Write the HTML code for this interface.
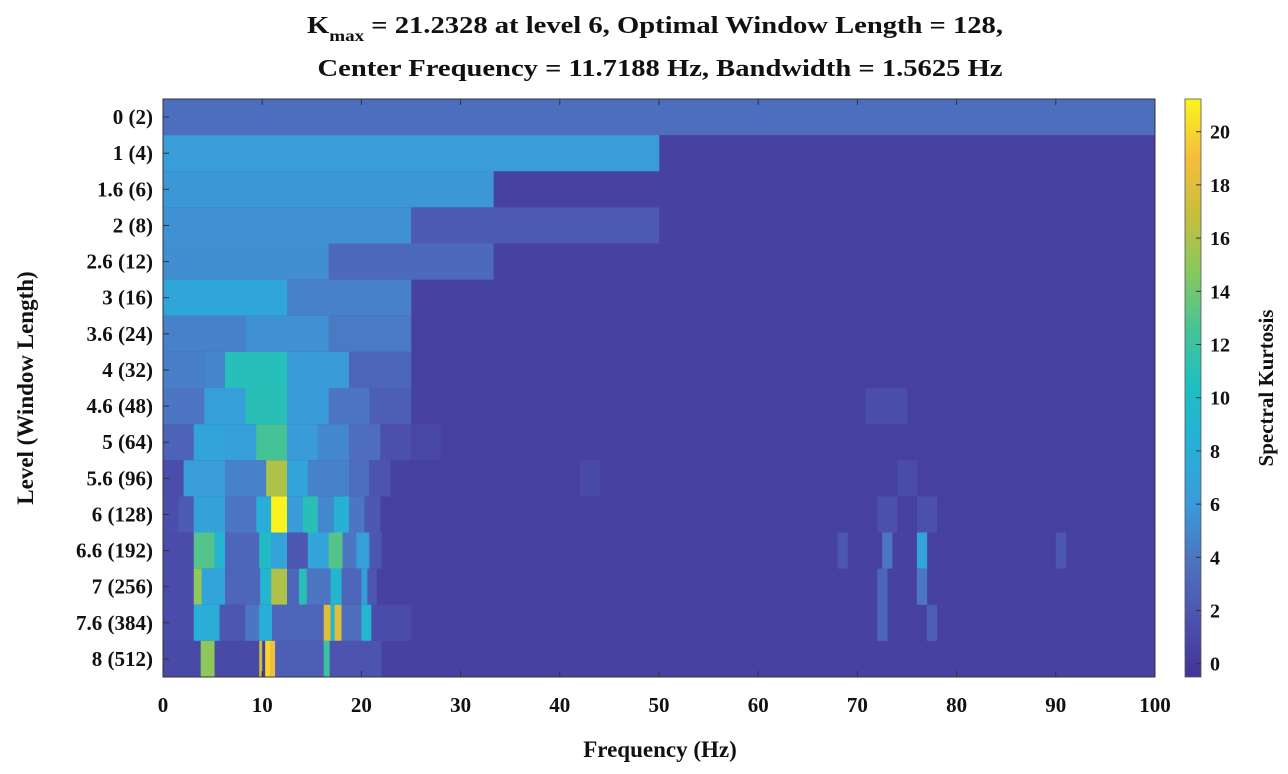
<!DOCTYPE html>
<html><head><meta charset="utf-8"><style>
html,body{margin:0;padding:0;background:#fff;}
svg{display:block;font-family:"Liberation Serif",serif;font-weight:bold;}
</style></head><body>
<svg id="chart" width="1288" height="774" viewBox="0 0 1288 774">
<text x="655" y="33" font-size="24" text-anchor="middle" fill="#111" textLength="696" lengthAdjust="spacingAndGlyphs">K<tspan font-size="16" dy="8">max</tspan><tspan dy="-8"> = 21.2328 at level 6, Optimal Window Length = 128,</tspan></text>
<text x="660" y="76" font-size="24" text-anchor="middle" fill="#111" textLength="685" lengthAdjust="spacingAndGlyphs">Center Frequency = 11.7188 Hz, Bandwidth = 1.5625 Hz</text>
<g id="cells"></g>
<rect x="163" y="99" width="992" height="578" fill="none" stroke="#333" stroke-width="1"/>
<g id="yticks"></g>
<g id="xticks"></g>
<text x="660" y="757" font-size="23" text-anchor="middle" fill="#111">Frequency (Hz)</text>
<text transform="translate(33,388) rotate(-90)" font-size="23" text-anchor="middle" fill="#111">Level (Window Length)</text>
<defs><linearGradient id="cbgrad" x1="0" y1="1" x2="0" y2="0"></linearGradient></defs>
<rect x="1185" y="99" width="16" height="578" fill="url(#cbgrad)" stroke="#555" stroke-width="0.8"/>
<g id="cbticks"></g>
<text transform="translate(1273,388) rotate(-90)" font-size="21" text-anchor="middle" fill="#111">Spectral Kurtosis</text>
</svg>
<script>
// ---- data ----
const levelLabels = ["0  (2)","1  (4)","1.6  (6)","2  (8)","2.6  (12)","3  (16)","3.6  (24)","4  (32)","4.6  (48)","5  (64)","5.6  (96)","6  (128)","6.6  (192)","7  (256)","7.6  (384)","8 (512)"];
const rowBackground = [3.5,0.5,0.5,0.5,0.5,0.4,0.4,0.4,0.4,0.4,0.4,0.4,0.5,0.5,0.5,0.5];
// segments per level: [startHz, endHz, kurtosis]
const rowSegments = [
 [[0,100,3.5]],
 [[0,50,6.2]],
 [[0,33.3,5.8]],
 [[0,25,5.5],[25,50,2.2]],
 [[0,16.7,5.3],[16.7,33.3,3.2]],
 [[0,12.5,7.2],[12.5,25,4.6]],
 [[0,8.33,4.6],[8.33,16.7,5.5],[16.7,25,4.2]],
 [[0,4.2,4.5],[4.2,6.25,4.8],[6.25,12.5,10.8],[12.5,18.75,6],[18.75,25,3]],
 [[0,4.17,4],[4.17,8.33,6.5],[8.33,12.5,11],[12.5,16.7,6],[16.7,20.8,4],[20.8,25,2.5],[70.8,75,1.3]],
 [[0,3.1,2.8],[3.1,6.25,7],[6.25,9.4,6.5],[9.4,12.5,12.5],[12.5,15.6,6],[15.6,18.75,5],[18.75,21.9,3.5],[21.9,25,1.5],[25,28,0.9]],
 [[0,2.08,1.3],[2.08,6.25,6.2],[6.25,10.4,4.6],[10.4,12.5,16],[12.5,14.6,7],[14.6,18.75,4.6],[18.75,20.8,3.4],[20.8,22.9,1.8],[42,44,1],[74,76,1.2]],
 [[0,1.56,1.4],[1.56,3.1,2.2],[3.1,6.25,6.8],[6.25,9.4,4],[9.4,10.9,8],[10.9,12.5,21.2],[12.5,14.1,6],[14.1,15.6,11],[15.6,17.2,5],[17.2,18.75,8.5],[18.75,20.3,4],[20.3,21.9,2],[72,74,1.5],[76,78,1.5]],
 [[0,3.1,1.2],[3.1,5.2,13],[5.2,6.25,9],[6.25,9.7,3],[9.7,10.9,10],[10.9,12.5,7],[12.5,14.6,2],[14.6,16.7,7],[16.7,18.1,13],[18.1,19.5,4],[19.5,20.8,6.5],[20.8,22,2],[72.5,73.5,4],[76,77,7],[68,69,2],[90,91,2]],
 [[0,3.1,1.2],[3.1,3.9,15],[3.9,6.25,7],[6.25,9.8,3],[9.8,10.9,9],[10.9,12.5,16],[12.5,13.7,3],[13.7,14.5,11],[14.5,16.9,4],[16.9,18,9],[18,20,3],[20,20.6,6.5],[20.6,21.5,2],[72,73,3],[76,77,4]],
 [[0,3.1,1.2],[3.1,5.7,8],[5.7,8.3,2],[8.3,9.7,4],[9.7,11,8],[11,16.2,3],[16.2,16.9,18],[16.9,17.3,9],[17.3,18,18],[18,20,3.5],[20,21,9],[21,25,1.2],[72,73,3],[77,78,2.5]],
 [[0,3.8,1],[3.8,5.2,15],[5.2,9.7,1],[9.7,10,17],[10,10.3,0.2],[10.3,10.8,20],[10.8,11.3,19],[11.3,16.2,2.5],[16.2,16.8,12],[16.8,22,1.8]]
];
const xTicks = [0,10,20,30,40,50,60,70,80,90,100];
const cbTicks = [0,2,4,6,8,10,12,14,16,18,20];
const cMin = -0.5, cMax = 21.23;

// ---- scales ----
const X0=163, X1=1155, Y0=99, Y1=677;
const xScale = f => X0 + (f/100)*(X1-X0);
const rowH = (Y1-Y0)/levelLabels.length;
const yScale = i => Y0 + i*rowH;
const cScale = v => Y1 - (v-cMin)/(cMax-cMin)*(Y1-Y0);

const parula = [[0,[66,52,150]],[0.1,[76,82,175]],[0.2,[78,115,192]],[0.3,[58,155,218]],[0.4,[40,175,215]],[0.5,[30,190,195]],[0.6,[70,195,150]],[0.7,[135,200,95]],[0.8,[200,190,60]],[0.9,[245,190,60]],[1,[250,245,30]]];
function color(v){
  let t=(v-cMin)/(cMax-cMin); t=Math.max(0,Math.min(1,t));
  for(let i=1;i<parula.length;i++){
    if(t<=parula[i][0]){
      const [a,ca]=parula[i-1],[b,cb]=parula[i];const u=(t-a)/(b-a);
      const c=ca.map((x,k)=>Math.round(x+(cb[k]-x)*u));
      return `rgb(${c[0]},${c[1]},${c[2]})`;
    }
  }
  return 'rgb(250,245,30)';
}
const NS="http://www.w3.org/2000/svg";
const cells=document.getElementById('cells');
levelLabels.forEach((lab,i)=>{
  const bg=document.createElementNS(NS,'rect');
  bg.setAttribute('x',X0);bg.setAttribute('y',yScale(i));
  bg.setAttribute('width',X1-X0);bg.setAttribute('height',rowH+0.5);
  bg.setAttribute('fill',color(rowBackground[i]));
  
  
  cells.appendChild(bg);
  rowSegments[i].forEach(s=>{
    const r=document.createElementNS(NS,'rect');
    r.setAttribute('x',xScale(s[0]));r.setAttribute('y',yScale(i));
    r.setAttribute('width',xScale(s[1])-xScale(s[0])+0.3);r.setAttribute('height',rowH+0.5);
    r.setAttribute('fill',color(s[2]));
    
    
    cells.appendChild(r);
  });
});
const yt=document.getElementById('yticks');
levelLabels.forEach((lab,i)=>{
  const yc=yScale(i)+rowH/2;
  const t=document.createElementNS(NS,'text');
  t.setAttribute('x',153);t.setAttribute('y',yc+7);t.setAttribute('text-anchor','end');
  t.setAttribute('font-size','21');t.setAttribute('fill','#111');t.setAttribute('xml:space','preserve');
  t.textContent=lab;
  
  
  yt.appendChild(t);
  const l=document.createElementNS(NS,'line');
  l.setAttribute('x1',X0);l.setAttribute('x2',X0+6);l.setAttribute('y1',yc);l.setAttribute('y2',yc);l.setAttribute('stroke','#333');
  
  
  yt.appendChild(l);
});
const xt=document.getElementById('xticks');
xTicks.forEach(v=>{
  const t=document.createElementNS(NS,'text');
  t.setAttribute('x',xScale(v));t.setAttribute('y',712);t.setAttribute('text-anchor','middle');
  t.setAttribute('font-size','21');t.setAttribute('fill','#111');t.textContent=v;
  
  
  xt.appendChild(t);
  const l=document.createElementNS(NS,'line');
  l.setAttribute('x1',xScale(v));l.setAttribute('x2',xScale(v));l.setAttribute('y1',Y1);l.setAttribute('y2',Y1-6);l.setAttribute('stroke','#333');
  
  
  xt.appendChild(l);
  const l2=document.createElementNS(NS,'line');
  l2.setAttribute('x1',xScale(v));l2.setAttribute('x2',xScale(v));l2.setAttribute('y1',Y0);l2.setAttribute('y2',Y0+6);l2.setAttribute('stroke','#333');
  
  
  xt.appendChild(l2);
});
const grad=document.getElementById('cbgrad');
for(let k=0;k<=20;k++){
  const st=document.createElementNS(NS,'stop');
  st.setAttribute('offset',(k/20));
  st.setAttribute('stop-color',color(cMin+(cMax-cMin)*k/20));
  grad.appendChild(st);
}
const cbt=document.getElementById('cbticks');
cbTicks.forEach(v=>{
  const y=cScale(v);
  const t=document.createElementNS(NS,'text');
  t.setAttribute('x',1210);t.setAttribute('y',y+7);t.setAttribute('font-size','20');t.setAttribute('fill','#111');t.textContent=v;
  
  
  cbt.appendChild(t);
  const l=document.createElementNS(NS,'line');
  l.setAttribute('x1',1196);l.setAttribute('x2',1201);l.setAttribute('y1',y);l.setAttribute('y2',y);l.setAttribute('stroke','#333');
  
  
  cbt.appendChild(l);
});
</script>
</body></html>
